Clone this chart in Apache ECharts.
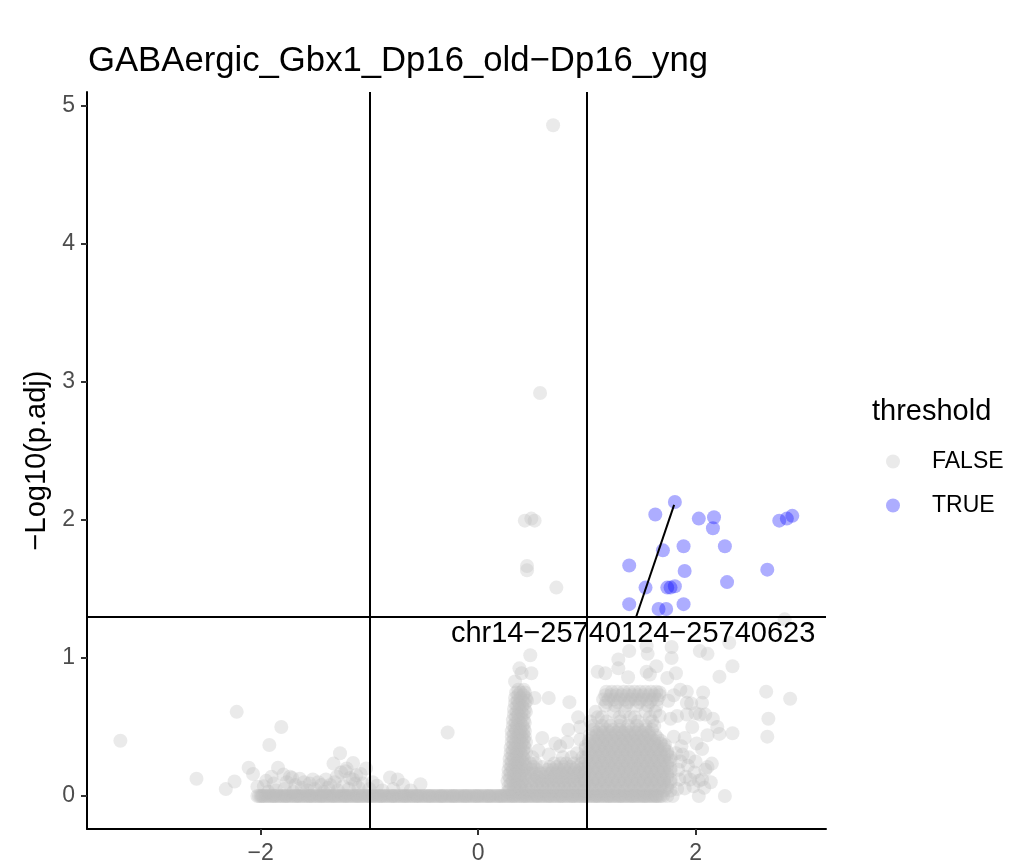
<!DOCTYPE html>
<html><head><meta charset="utf-8">
<script src="https://cdn.jsdelivr.net/npm/echarts@6/dist/echarts.min.js"></script>
<style>html,body{margin:0;padding:0;background:#fff}#c{width:1014px;height:865px}</style>
</head><body><div id="c"></div>
<script>
// ---------- data (log2FC, -log10(p.adj)) ----------
const chartTitle = 'GABAergic_Gbx1_Dp16_old\u2212Dp16_yng';
const yName = '\u2212Log10(p.adj)';
const legendTitle = 'threshold';
const xTicks = [-2, 0, 2];
const yTicks = [0, 1, 2, 3, 4, 5];
const fcCut = [-1, 1];
const padjCut = 1.3;

// dense row of genes with p.adj = 1 (-log10 = 0)
const bandX = [-2.03,-2.015,-2.00,-1.99,-1.98,-1.965,-1.95,-1.935,-1.92,-1.905,-1.89,-1.88,-1.87,-1.855,-1.84,-1.825,-1.81,-1.795,-1.78,-1.77,-1.76,-1.745,-1.73,-1.715,-1.70,-1.685,-1.67,-1.66,-1.65,-1.635,-1.62,-1.605,-1.59,-1.575,-1.56,-1.55,-1.54,-1.525,-1.51,-1.495,-1.48,-1.465,-1.45,-1.44,-1.43,-1.415,-1.40,-1.385,-1.37,-1.355,-1.34,-1.33,-1.32,-1.305,-1.29,-1.275,-1.26,-1.245,-1.23,-1.22,-1.21,-1.195,-1.18,-1.165,-1.15,-1.135,-1.12,-1.11,-1.10,-1.085,-1.07,-1.055,-1.04,-1.025,-1.01,-1.00,-0.99,-0.975,-0.96,-0.945,-0.93,-0.915,-0.90,-0.89,-0.88,-0.865,-0.85,-0.835,-0.82,-0.805,-0.79,-0.78,-0.77,-0.755,-0.74,-0.725,-0.71,-0.695,-0.68,-0.67,-0.66,-0.645,-0.63,-0.615,-0.60,-0.585,-0.57,-0.56,-0.55,-0.535,-0.52,-0.505,-0.49,-0.475,-0.46,-0.45,-0.44,-0.425,-0.41,-0.395,-0.38,-0.365,-0.35,-0.34,-0.33,-0.315,-0.30,-0.285,-0.27,-0.255,-0.24,-0.23,-0.22,-0.205,-0.19,-0.175,-0.16,-0.145,-0.13,-0.12,-0.11,-0.095,-0.08,-0.065,-0.05,-0.035,-0.02,-0.01,0.00,0.015,0.03,0.045,0.06,0.075,0.09,0.10,0.11,0.125,0.14,0.155,0.17,0.185,0.20,0.21,0.22,0.235,0.25,0.265,0.28,0.295,0.31,0.32,0.33,0.345,0.36,0.375,0.39,0.405,0.42,0.43,0.44,0.455,0.47,0.485,0.50,0.515,0.53,0.54,0.55,0.565,0.58,0.595,0.61,0.625,0.64,0.65,0.66,0.675,0.69,0.705,0.72,0.735,0.75,0.76,0.77,0.785,0.80,0.815,0.83,0.845,0.86,0.87,0.88,0.895,0.91,0.925,0.94,0.955,0.97,0.98,0.99,1.005,1.02,1.035,1.05,1.065,1.08,1.09,1.10,1.115,1.13,1.145,1.16,1.175,1.19,1.20,1.21,1.225,1.24,1.255,1.27,1.285,1.30,1.31,1.32,1.335,1.35,1.365,1.38,1.395,1.41,1.42,1.43,1.445,1.46,1.475,1.49,1.505,1.52,1.53,1.54,1.555,1.57,1.585,1.60,1.615,1.63,1.64,1.65,1.665,1.68,1.70,1.74,1.79];

// dense clouds near zero: each row is [ -log10(p.adj), [log2FC ...] ]
const spikeRows = [
  [0.03,[0.27,0.32,0.37,0.42]],[0.05,[0.295,0.345,0.395,0.44]],[0.07,[0.28,0.33,0.38,0.43]],[0.09,[0.30,0.35,0.40]],
  [0.11,[0.27,0.32,0.36,0.41]],[0.13,[0.295,0.345,0.39,0.44]],[0.15,[0.28,0.33,0.38,0.43]],[0.17,[0.30,0.35,0.40]],
  [0.19,[0.28,0.32,0.37,0.42]],[0.21,[0.305,0.355,0.40,0.44]],[0.23,[0.29,0.34,0.38,0.43]],[0.25,[0.31,0.36,0.405]],
  [0.27,[0.29,0.33,0.38,0.42]],[0.29,[0.315,0.36,0.41]],[0.31,[0.30,0.35,0.39,0.44]],[0.33,[0.32,0.37,0.415]],
  [0.35,[0.30,0.34,0.39,0.43]],[0.37,[0.325,0.37,0.42]],[0.39,[0.31,0.35,0.40,0.44]],[0.41,[0.33,0.38,0.42]],
  [0.43,[0.31,0.36,0.40,0.43]],[0.45,[0.33,0.375,0.415]],[0.47,[0.31,0.35,0.39,0.43]],[0.49,[0.34,0.385,0.42]],
  [0.51,[0.32,0.36,0.41]],[0.53,[0.345,0.39,0.43]],[0.55,[0.32,0.37,0.42]],[0.57,[0.35,0.395]],
  [0.59,[0.33,0.37,0.42]],[0.61,[0.355,0.40,0.44]],[0.63,[0.33,0.38,0.43]],[0.65,[0.36,0.405]],
  [0.67,[0.34,0.38,0.43]],[0.69,[0.365,0.41,0.45]],[0.71,[0.34,0.39,0.44]],[0.73,[0.37,0.415]],
  [0.75,[0.35,0.39,0.43]],[0.77,[0.37,0.42]]
];
const midRows = [
  [0.04,[0.47,0.52,0.57,0.62,0.67,0.72,0.77,0.82,0.87,0.92,0.97]],
  [0.065,[0.495,0.545,0.595,0.645,0.695,0.745,0.795,0.845,0.895,0.945]],
  [0.09,[0.49,0.54,0.59,0.64,0.69,0.74,0.79,0.84,0.89,0.94]],
  [0.115,[0.47,0.52,0.57,0.62,0.67,0.72,0.77,0.82,0.87,0.92,0.97]],
  [0.14,[0.495,0.545,0.595,0.645,0.695,0.745,0.795,0.845,0.895,0.945]],
  [0.165,[0.47,0.52,0.57,0.62,0.67,0.72,0.77,0.82,0.87,0.92,0.97]],
  [0.19,[0.49,0.54,0.64,0.69,0.74,0.79,0.84,0.89,0.94]],
  [0.21,[0.51,0.59,0.66,0.72,0.79,0.85,0.91,0.97]],
  [0.235,[0.48,0.53,0.70,0.76,0.81,0.88,0.95]],
  [0.28,[0.50,0.78,0.86,0.96]]
];
const blobRows = [
  [0.04,[0.99,1.05,1.11,1.17,1.23,1.29,1.35,1.41,1.47,1.53,1.59,1.65,1.71,1.77]],
  [0.06,[1.02,1.08,1.14,1.20,1.26,1.32,1.38,1.44,1.50,1.56,1.62,1.68,1.74]],
  [0.08,[1.02,1.08,1.14,1.20,1.26,1.32,1.38,1.44,1.50,1.56,1.62,1.68,1.74]],
  [0.10,[0.99,1.05,1.11,1.17,1.23,1.29,1.35,1.41,1.47,1.53,1.59,1.65,1.71,1.77]],
  [0.12,[0.99,1.05,1.11,1.17,1.23,1.29,1.35,1.41,1.47,1.53,1.59,1.65,1.71,1.77]],
  [0.14,[1.02,1.08,1.14,1.20,1.26,1.32,1.38,1.44,1.50,1.56,1.62,1.68,1.74]],
  [0.16,[1.02,1.08,1.14,1.20,1.26,1.32,1.38,1.44,1.50,1.56,1.62,1.68,1.74]],
  [0.18,[0.99,1.05,1.11,1.17,1.23,1.29,1.35,1.41,1.47,1.53,1.59,1.65,1.71,1.77]],
  [0.20,[0.99,1.05,1.11,1.17,1.23,1.29,1.35,1.41,1.47,1.53,1.59,1.65,1.71,1.77]],
  [0.22,[1.02,1.08,1.14,1.20,1.26,1.32,1.38,1.44,1.50,1.56,1.62,1.68,1.74]],
  [0.24,[1.02,1.08,1.14,1.20,1.26,1.32,1.38,1.44,1.50,1.56,1.62,1.68,1.74]],
  [0.26,[0.99,1.05,1.11,1.17,1.23,1.29,1.35,1.41,1.47,1.53,1.59,1.65,1.71,1.77]],
  [0.28,[0.99,1.05,1.11,1.17,1.23,1.29,1.35,1.41,1.47,1.53,1.59,1.65,1.71,1.77]],
  [0.30,[1.02,1.08,1.14,1.20,1.26,1.32,1.38,1.44,1.50,1.56,1.62,1.68,1.74]],
  [0.32,[1.02,1.08,1.14,1.20,1.26,1.32,1.38,1.44,1.50,1.56,1.62,1.68,1.74]],
  [0.34,[0.99,1.05,1.11,1.17,1.23,1.29,1.35,1.41,1.47,1.53,1.59,1.65,1.71]],
  [0.36,[0.99,1.05,1.11,1.17,1.23,1.29,1.35,1.41,1.47,1.53,1.59,1.65,1.71]],
  [0.38,[1.02,1.08,1.14,1.20,1.26,1.32,1.38,1.44,1.50,1.56,1.62,1.68]],
  [0.40,[1.02,1.08,1.14,1.20,1.26,1.32,1.38,1.44,1.50,1.56,1.62,1.68]],
  [0.42,[1.05,1.11,1.17,1.23,1.29,1.35,1.41,1.47,1.53,1.59,1.65]],
  [0.44,[1.03,1.09,1.15,1.21,1.27,1.33,1.39,1.45,1.51,1.57,1.63]],
  [0.46,[1.09,1.15,1.21,1.27,1.33,1.39,1.45,1.51,1.57]],
  [0.48,[1.06,1.12,1.18,1.24,1.30,1.36,1.42,1.48,1.54,1.60]],
  [0.51,[1.06,1.14,1.22,1.30,1.38,1.46,1.54,1.62]],
  [0.54,[1.03,1.18,1.31,1.47,1.60]],
  [0.57,[1.10,1.14,1.30,1.40,1.44,1.58]],
  [0.61,[1.08,1.25,1.35,1.54,1.63]],
  [0.655,[1.17,1.26,1.36,1.46,1.56,1.64]],
  [0.68,[1.18,1.28,1.38,1.48,1.58]],
  [0.70,[1.15,1.20,1.25,1.30,1.35,1.40,1.45,1.50,1.55,1.60,1.65]],
  [0.73,[1.17,1.22,1.27,1.32,1.37,1.42,1.47,1.52,1.57,1.62,1.67]],
  [0.755,[1.18,1.23,1.28,1.34,1.39,1.44,1.49,1.54,1.59,1.64]]
];

const leftPts = [[-3.29,0.40],[-2.59,0.125],[-2.32,0.05],[-2.24,0.105],[-2.22,0.61],[-2.11,0.205],[-2.07,0.16],[-2.03,0.067],[-1.97,0.07],[-1.95,0.11],[-1.93,0.03],[-1.92,0.37],[-1.90,0.14],[-1.88,0.09],[-1.86,0.04],[-1.84,0.205],[-1.81,0.50],[-1.79,0.155],[-1.78,0.05],[-1.76,0.10],[-1.73,0.14],[-1.71,0.13],[-1.70,0.03],[-1.68,0.08],[-1.64,0.125],[-1.62,0.06],[-1.60,0.10],[-1.57,0.04],[-1.55,0.09],[-1.52,0.12],[-1.50,0.05],[-1.47,0.10],[-1.44,0.08],[-1.42,0.03],[-1.40,0.12],[-1.38,0.06],[-1.36,0.08],[-1.33,0.235],[-1.32,0.10],[-1.30,0.14],[-1.29,0.04],[-1.27,0.31],[-1.26,0.17],[-1.24,0.07],[-1.22,0.18],[-1.21,0.20],[-1.19,0.05],[-1.18,0.13],[-1.15,0.24],[-1.15,0.12],[-1.13,0.09],[-1.12,0.15],[-1.10,0.06],[-1.08,0.16],[-1.06,0.09],[-1.03,0.20],[-1.00,0.05],[-0.97,0.10],[-0.93,0.075],[-0.88,0.04],[-0.81,0.135],[-0.78,0.05],[-0.74,0.12],[-0.69,0.08],[-0.62,0.04],[-0.53,0.085],[-0.28,0.46]];

const scatterPts = [[0.48,1.02],[0.38,0.925],[0.40,0.89],[0.49,0.89],[0.34,0.83],[0.52,0.71],[0.65,0.71],[0.84,0.68],[0.59,0.42],[0.71,0.38],[0.65,0.30],[0.82,0.39],[0.83,0.48],[0.92,0.57],[0.94,0.50],[0.94,0.41],[0.555,0.33],[0.755,0.36],[0.91,0.31],
[2.65,0.756],[2.87,0.705],[2.67,0.56],[2.66,0.43],[2.34,0.94],[2.22,0.865],[2.31,1.11],[2.11,1.03],[2.04,1.05],[1.78,1.08],[1.78,1.00],[1.55,1.085],[1.56,1.03],[1.82,0.89],[1.74,0.855],[1.55,0.90],[1.64,0.94],[1.10,0.90],[1.17,0.89],[1.29,0.99],[1.39,1.05],[1.29,0.925],[1.38,0.86],[2.07,0.75],[1.92,0.756],[1.86,0.77],[2.06,0.675],[1.96,0.67],[2.00,0.60],[1.92,0.59],[2.04,0.59],[2.09,0.59],[2.16,0.56],[2.20,0.50],[2.11,0.44],[2.22,0.45],[2.34,0.455],[1.97,0.50],[1.90,0.42],[1.80,0.43],[1.72,0.37],[2.06,0.34],[2.15,0.235],[2.11,0.21],[2.09,0.19],[1.99,0.17],[2.03,0.11],[1.95,0.12],[2.03,0.0],[2.27,0.0],[1.90,0.055],[1.86,0.25],[1.94,0.28],[1.67,0.75],[1.80,0.73],[1.92,0.675],[1.75,0.69],[1.83,0.58],[1.77,0.56],[1.67,0.58],[1.58,0.88],
[1.83,0.05],[1.85,0.12],[1.84,0.19],[1.88,0.30],[1.91,0.14],[1.93,0.22],[1.98,0.07],[2.00,0.25],[2.06,0.12],[2.08,0.06],[2.14,0.10],[1.87,0.36],[1.82,0.31],[2.01,0.38]];

const highFalsePts = [[0.69,4.86],[0.57,2.92],[0.43,1.995],[0.49,2.01],[0.52,1.995],[0.45,1.667],[0.45,1.635],[0.72,1.51],[2.82,1.28]];

const truePts = [[1.81,2.13],[1.63,2.04],[2.03,2.01],[2.17,2.02],[2.16,1.94],[2.77,1.995],[2.84,2.01],[2.89,2.03],[1.70,1.78],[1.89,1.81],[2.27,1.81],[1.39,1.67],[1.90,1.63],[2.66,1.64],[2.29,1.55],[1.54,1.51],[1.74,1.51],[1.77,1.51],[1.81,1.52],[1.39,1.39],[1.66,1.355],[1.73,1.355],[1.89,1.39]];

// repelled gene label and its leader segment
const geneLabel = 'chr14\u221225740124\u221225740623';
const geneLabelPos = [1.426, 1.174];
const geneSegment = [[1.454, 1.299], [1.803, 2.109]];

// ---------- chart ----------
const FONT = '"Liberation Sans", Arial, Helvetica, sans-serif';
const minus = v => (v < 0 ? '\u2212' + Math.abs(v) : String(v));
const rowsToPts = rows => rows.flatMap(r => r[1].map(x => [x, r[0]]));
const falseData = bandX.map(x => [x, 0]).concat(leftPts, rowsToPts(spikeRows), rowsToPts(midRows), rowsToPts(blobRows), scatterPts, highFalsePts);

const chart = echarts.init(document.getElementById('c'), null, {renderer: 'canvas'});
chart.setOption({
  animation: false,
  backgroundColor: '#ffffff',
  textStyle: {fontFamily: FONT},
  title: [
    {text: chartTitle, left: 83, top: 39, textStyle: {fontFamily: FONT, fontSize: 34.7, fontWeight: 'normal', color: '#000'}},
    {text: legendTitle, left: 867, top: 392, textStyle: {fontFamily: FONT, fontSize: 29, fontWeight: 'normal', color: '#000'}}
  ],
  grid: {left: 87, right: 188, top: 92, bottom: 36},
  legend: {
    orient: 'vertical', left: 886, top: 450, padding: 0, itemWidth: 68, itemHeight: 14, itemGap: 21,
    icon: 'circle', data: ['FALSE', 'TRUE'],
    textStyle: {fontFamily: FONT, fontSize: 23, color: '#000'}
  },
  xAxis: {
    type: 'value', min: -3.597, max: 3.20,
    axisLine: {onZero: false, lineStyle: {color: '#000', width: 2}},
    axisTick: {show: true, customValues: xTicks, length: 6, lineStyle: {color: '#333', width: 2}},
    axisLabel: {customValues: xTicks, formatter: minus, color: '#4D4D4D', fontSize: 23, margin: 13, fontFamily: FONT},
    splitLine: {show: false}
  },
  yAxis: {
    type: 'value', min: -0.239, max: 5.101,
    name: yName, nameLocation: 'middle', nameRotate: 90, nameGap: 31,
    nameTextStyle: {fontFamily: FONT, fontSize: 29, color: '#000'},
    axisLine: {onZero: false, lineStyle: {color: '#000', width: 2}},
    axisTick: {show: true, customValues: yTicks, length: 6, lineStyle: {color: '#333', width: 2}},
    axisLabel: {customValues: yTicks, formatter: minus, color: '#4D4D4D', fontSize: 23, margin: 12, fontFamily: FONT},
    splitLine: {show: false}
  },
  series: [
    {name: 'FALSE', type: 'scatter', data: falseData, symbolSize: 14, z: 2, large: false, progressive: 0,
     itemStyle: {color: 'rgba(190,190,190,0.4)'}, emphasis: {disabled: true}},
    {name: 'TRUE', type: 'scatter', data: truePts, symbolSize: 14, z: 2,
     itemStyle: {color: 'rgba(0,0,255,0.4)'}, emphasis: {disabled: true}},
    {name: 'cutoffs', type: 'scatter', data: [], z: 10, silent: true,
     markLine: {silent: true, symbol: ['none', 'none'], label: {show: false}, animation: false,
       lineStyle: {color: '#000', width: 2, type: 'solid'},
       data: [{xAxis: fcCut[0]}, {xAxis: fcCut[1]}, {yAxis: padjCut}]}},
    {name: 'segment', type: 'line', data: geneSegment, showSymbol: false, symbol: 'none', z: 11, silent: true,
     lineStyle: {color: '#000', width: 2}},
    {name: 'label', type: 'scatter', data: [geneLabelPos], symbolSize: 1, z: 12, silent: true,
     itemStyle: {color: 'rgba(0,0,0,0)'},
     label: {show: true, position: 'inside', formatter: geneLabel, color: '#000', opacity: 1, fontSize: 29, fontFamily: FONT}}
  ]
});
</script></body></html>
